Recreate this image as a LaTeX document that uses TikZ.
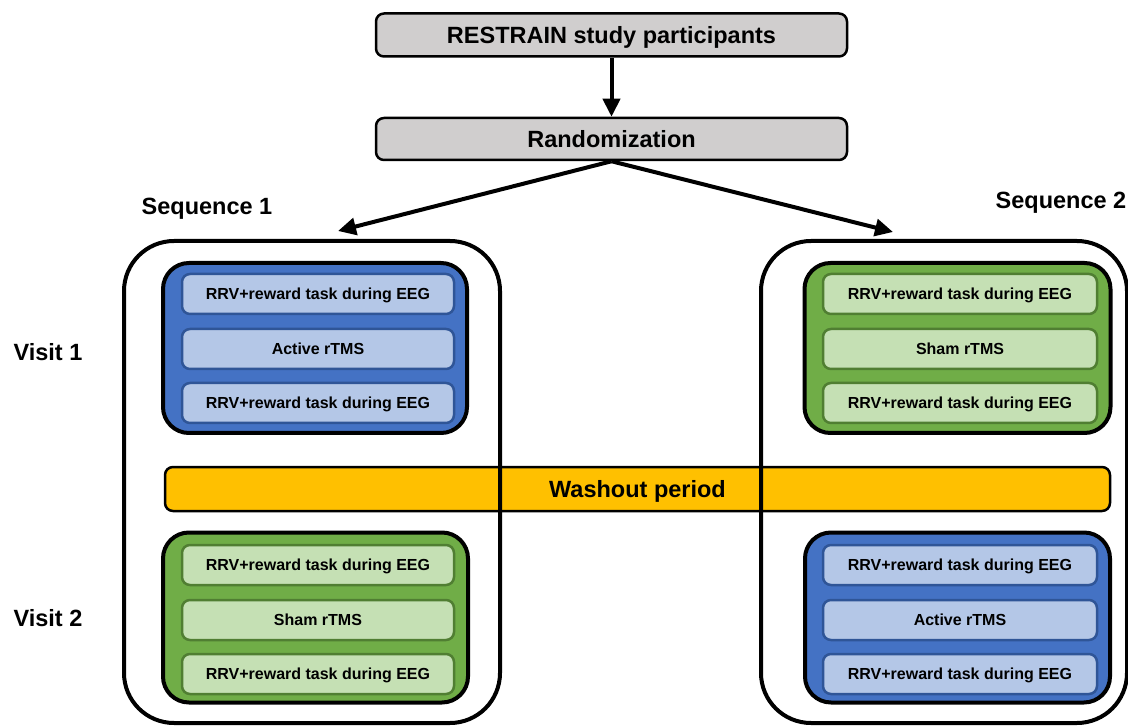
\documentclass[tikz,border=0pt]{standalone}
\usepackage{fontspec}
\setmainfont{Liberation Sans}
\usetikzlibrary{arrows.meta}
\definecolor{greyfill}{HTML}{D0CECE}
\definecolor{bluegrp}{HTML}{4472C4}
\definecolor{bluesub}{HTML}{B4C7E7}
\definecolor{blueedge}{HTML}{2F5597}
\definecolor{greengrp}{HTML}{70AD47}
\definecolor{greensub}{HTML}{C5E0B4}
\definecolor{greenedge}{HTML}{507E32}
\definecolor{washfill}{HTML}{FFC000}
\tikzset{
  greybox/.style={draw=black, line width=2.5pt, fill=greyfill, rounded corners=8pt,
    minimum width=471pt, minimum height=43pt, inner sep=0pt, text depth=0pt,
    font=\fontsize{23.5}{26}\selectfont\bfseries},
  container/.style={draw=black, line width=4pt, rounded corners=50pt, inner sep=0pt},
  bluegroup/.style={draw=black, line width=4pt, fill=bluegrp, rounded corners=26pt, inner sep=0pt},
  greengroup/.style={draw=black, line width=4pt, fill=greengrp, rounded corners=26pt, inner sep=0pt},
  bluestep/.style={draw=blueedge, line width=2.5pt, fill=bluesub, rounded corners=8pt,
    minimum width=272pt, minimum height=40pt, inner sep=0pt, text depth=0pt,
    font=\fontsize{16}{18}\selectfont\bfseries},
  greenstep/.style={draw=greenedge, line width=2.5pt, fill=greensub, rounded corners=8pt,
    minimum width=272pt, minimum height=40pt, inner sep=0pt, text depth=0pt,
    font=\fontsize{16}{18}\selectfont\bfseries},
  label/.style={font=\fontsize{23.5}{26}\selectfont\bfseries, inner sep=0pt},
  arr/.style={line width=4pt, -{Triangle[length=18pt,width=17pt]}},
}
\begin{document}
\begin{tikzpicture}[x=1pt,y=-1pt]
\useasboundingbox (0,0) rectangle (1128,727);
% top boxes
\node[greybox] (top) at (611.5,35) {RESTRAIN study participants};
\node[greybox, minimum height=42pt] (rand) at (611.5,139) {Randomization};
% washout bar
\node[draw=black, line width=2.5pt, fill=washfill, rounded corners=8pt,
  minimum width=945pt, minimum height=44pt, inner sep=0pt, text depth=0pt,
  font=\fontsize{23.5}{26}\selectfont\bfseries] (wash) at (637.5,489) {Washout period};
% containers
\node[container, minimum width=376pt, minimum height=482pt] (seq1box) at (312,482) {};
\node[container, minimum width=366pt, minimum height=482pt] (seq2box) at (944,482) {};
% labels
\node[label] (seq1) at (207,209) {Sequence 1};
\node[label] (seq2) at (1061,203) {Sequence 2};
\node[label] (visit1) at (48,352) {Visit 1};
\node[label] (visit2) at (48,618) {Visit 2};
% arrows
\coordinate (tip1) at (338,231);
\coordinate (tip2) at (893,232);
\draw[arr] (top.south) -- (rand.north);
\draw[arr] (rand.south) -- (tip1);
\draw[arr] (rand.south) -- (tip2);
% Sequence 1, visit 1 (active)
\node[bluegroup, minimum width=304pt, minimum height=170pt] (g11) at (315,348) {};
\node[bluestep] (a11) at (318,294) {RRV+reward task during EEG};
\node[bluestep] (a12) at (318,349) {Active rTMS};
\node[bluestep] (a13) at (318,403) {RRV+reward task during EEG};
% Sequence 1, visit 2 (sham)
\node[greengroup, minimum width=305pt, minimum height=170pt] (g12) at (315.5,617.5) {};
\node[greenstep] (b11) at (318,565) {RRV+reward task during EEG};
\node[greenstep] (b12) at (318,620) {Sham rTMS};
\node[greenstep] (b13) at (318,674) {RRV+reward task during EEG};
% Sequence 2, visit 1 (sham)
\node[greengroup, minimum width=306pt, minimum height=170pt] (g21) at (957.5,348) {};
\node[greenstep, minimum width=274pt] (c11) at (960,294) {RRV+reward task during EEG};
\node[greenstep, minimum width=274pt] (c12) at (960,349) {Sham rTMS};
\node[greenstep, minimum width=274pt] (c13) at (960,403) {RRV+reward task during EEG};
% Sequence 2, visit 2 (active)
\node[bluegroup, minimum width=305pt, minimum height=170pt] (g22) at (957.5,617.5) {};
\node[bluestep, minimum width=274pt] (d11) at (960,565) {RRV+reward task during EEG};
\node[bluestep, minimum width=274pt] (d12) at (960,620) {Active rTMS};
\node[bluestep, minimum width=274pt] (d13) at (960,674) {RRV+reward task during EEG};
\end{tikzpicture}
\end{document}
